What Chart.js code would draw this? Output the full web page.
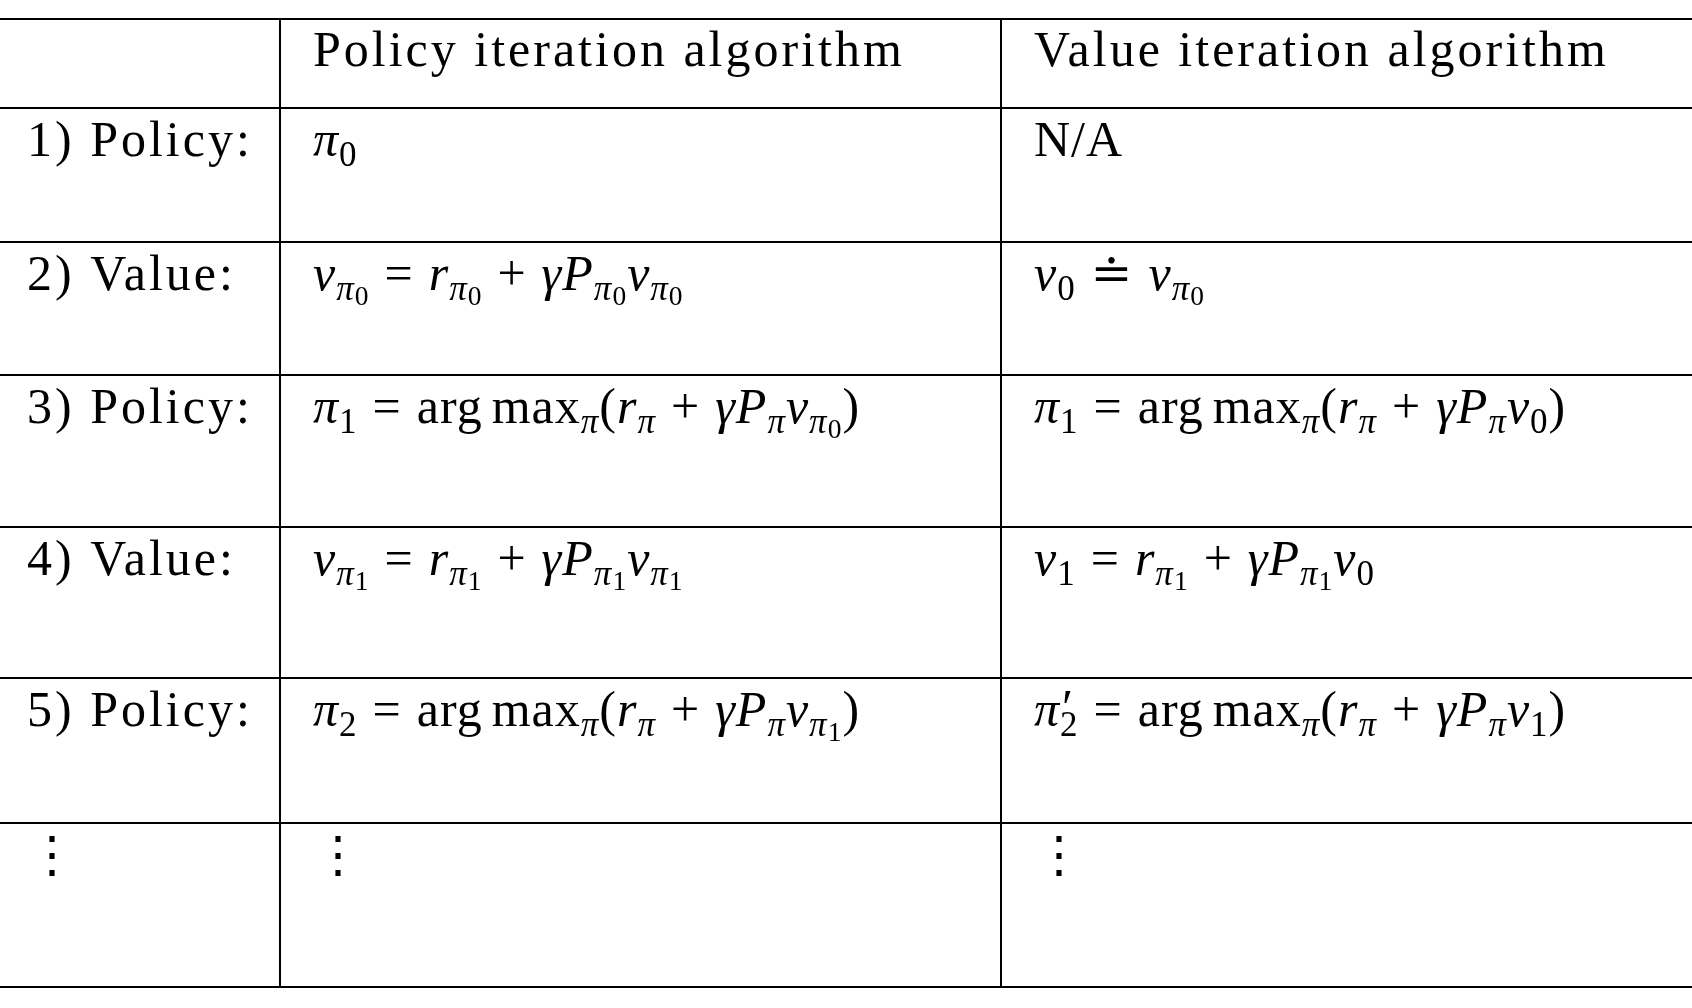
<!DOCTYPE html>
<html>
<head>
<meta charset="utf-8">
<script src="https://cdn.jsdelivr.net/npm/chart.js@4"></script>
<style>
  html, body { margin: 0; padding: 0; background: #fff; }
</style>
</head>
<body>
<canvas id="table" width="1692" height="1008"></canvas>
<script>
// table content (mini TeX: _{..} subscript, \word upright, latin letters italic)
const headers = ["", "Policy iteration algorithm", "Value iteration algorithm"];
const rowLabels = ["1) Policy:", "2) Value:", "3) Policy:", "4) Value:", "5) Policy:", "⋮"];
const policyCol = [
  "π_0",
  "v_{π_0} = r_{π_0} + γP_{π_0}v_{π_0}",
  "π_1 = \\arg\\,\\max_π(r_π + γP_πv_{π_0})",
  "v_{π_1} = r_{π_1} + γP_{π_1}v_{π_1}",
  "π_2 = \\arg\\,\\max_π(r_π + γP_πv_{π_1})",
  "⋮"
];
const valueCol = [
  "\\N/A",
  "v_0 ≐ v_{π_0}",
  "π_1 = \\arg\\,\\max_π(r_π + γP_πv_0)",
  "v_1 = r_{π_1} + γP_{π_1}v_0",
  "π′_2 = \\arg\\,\\max_π(r_π + γP_πv_1)",
  "⋮"
];

// layout
const hLines = [19, 108, 242, 375, 527, 678, 823, 987];
const vLines = [280, 1001];
const colX = [27, 313, 1034];
const FONT = '"Liberation Serif", "DejaVu Serif", serif';
const BASE = 50;

function parse(s, level, out) {
  let i = 0;
  while (i < s.length) {
    const c = s[i];
    if (c === '_') {
      i++;
      let sub;
      if (s[i] === '{') {
        let d = 1, j = i + 1;
        while (d > 0) { if (s[j] === '{') d++; if (s[j] === '}') d--; j++; }
        sub = s.slice(i + 1, j - 1); i = j;
      } else { sub = s[i]; i++; }
      parse(sub, level + 1, out);
    } else if (c === '\\') {
      let j = i + 1;
      if (s[j] === ',') { out.push({ t: ' ', level, it: false, thin: true }); i = j + 1; continue; }
      while (j < s.length && /[A-Za-z\/]/.test(s[j])) j++;
      out.push({ t: s.slice(i + 1, j), level, it: false });
      i = j;
    } else if (c === ' ') {
      out.push({ t: ' ', level, it: false, space: true }); i++;
    } else if (c === '′') {
      out.push({ t: c, level, it: false, prime: true }); i++;
    } else {
      out.push({ t: c, level, it: /[A-Za-zα-ωγπ]/.test(c) }); i++;
    }
  }
  return out;
}

function drawMath(ctx, s, x, y) {
  const parts = parse(s, 0, []);
  const sizes = [BASE, BASE * 0.7, BASE * 0.55];
  const offs = [0, BASE * 0.2, BASE * 0.3];
  ctx.letterSpacing = '1px';
  for (const p of parts) {
    const sz = sizes[Math.min(p.level, 2)];
    ctx.font = (p.it ? 'italic ' : '') + sz + 'px ' + FONT;
    if (p.space) { x += BASE * 0.3; continue; }
    if (p.thin) { x += BASE * 0.18; continue; }
    if (p.prime) { ctx.fillText(p.t, x + 2, y - BASE * 0.05); continue; }
    ctx.fillText(p.t, x, y + offs[Math.min(p.level, 2)]);
    x += ctx.measureText(p.t).width;
  }
}

const tablePlugin = {
  id: 'tablePlugin',
  afterDraw(chart) {
    const ctx = chart.ctx, xs = chart.scales.x, ys = chart.scales.y;
    ctx.save();
    ctx.strokeStyle = '#000';
    ctx.lineWidth = 2;
    hLines.forEach(v => {
      ctx.beginPath();
      ctx.moveTo(xs.getPixelForValue(0), ys.getPixelForValue(v));
      ctx.lineTo(xs.getPixelForValue(1692), ys.getPixelForValue(v));
      ctx.stroke();
    });
    vLines.forEach(v => {
      ctx.beginPath();
      ctx.moveTo(xs.getPixelForValue(v), ys.getPixelForValue(hLines[0]));
      ctx.lineTo(xs.getPixelForValue(v), ys.getPixelForValue(hLines[hLines.length - 1]));
      ctx.stroke();
    });
    ctx.fillStyle = '#000';
    ctx.textBaseline = 'alphabetic';
    ctx.letterSpacing = '3px';
    ctx.font = BASE + 'px ' + FONT;
    headers.forEach((h, c) => ctx.fillText(h, xs.getPixelForValue(colX[c]), ys.getPixelForValue(hLines[0] + 47)));
    rowLabels.forEach((lab, r) => {
      const y = ys.getPixelForValue(hLines[r + 1] + 48);
      ctx.letterSpacing = '3px';
      ctx.font = BASE + 'px ' + FONT;
      ctx.fillText(lab, xs.getPixelForValue(colX[0]), y);
      drawMath(ctx, policyCol[r], xs.getPixelForValue(colX[1]), y);
      drawMath(ctx, valueCol[r], xs.getPixelForValue(colX[2]), y);
    });
    ctx.restore();
  }
};

new Chart(document.getElementById('table').getContext('2d'), {
  type: 'scatter',
  data: { datasets: [{ data: [] }] },
  options: {
    responsive: false,
    animation: false,
    layout: { padding: 0 },
    plugins: { legend: { display: false }, tooltip: { enabled: false } },
    scales: {
      x: { type: 'linear', min: 0, max: 1692, display: false },
      y: { type: 'linear', min: 0, max: 1008, reverse: true, display: false }
    }
  },
  plugins: [tablePlugin]
});
</script>
</body>
</html>
